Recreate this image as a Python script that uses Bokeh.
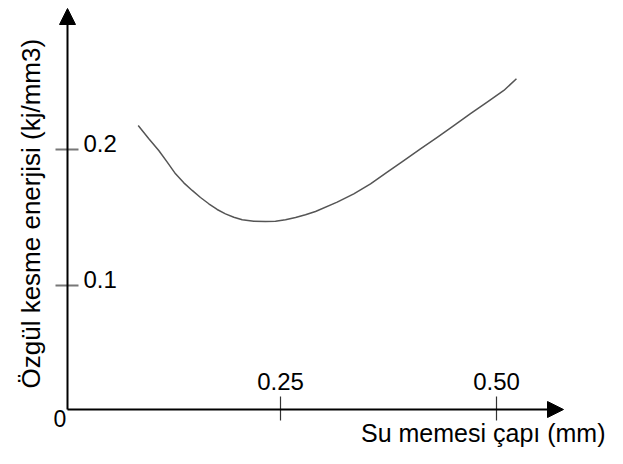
import math
from bokeh.plotting import figure
from bokeh.models import Range1d, Arrow, NormalHead
from bokeh.core.properties import value
from bokeh.embed import file_html
from bokeh.resources import INLINE

# ---- data ----
nozzle_diameter = [0.0853, 0.0976, 0.1091, 0.1189, 0.1285, 0.1381, 0.1478, 0.1574,
                   0.1670, 0.1767, 0.1863, 0.1960, 0.2057, 0.2191, 0.2326, 0.2442,
                   0.2558, 0.2674, 0.2789, 0.2905, 0.3156, 0.3348, 0.3542, 0.3735,
                   0.3927, 0.4120, 0.4314, 0.4506, 0.4699, 0.4892, 0.5085, 0.5231]
specific_energy = [0.2176, 0.2079, 0.1993, 0.1907, 0.1821, 0.1755, 0.1699, 0.1647,
                   0.1601, 0.1559, 0.1527, 0.1502, 0.1483, 0.1473, 0.1471, 0.1473,
                   0.1483, 0.1500, 0.1520, 0.1544, 0.1613, 0.1674, 0.1748, 0.1833,
                   0.1919, 0.2005, 0.2090, 0.2176, 0.2263, 0.2348, 0.2434, 0.2520]
x_ticks = [0.25, 0.50]
x_tick_labels = ["0.25", "0.50"]
y_ticks = [0.1, 0.2]
y_tick_labels = ["0.1", "0.2"]
x_title = "Su memesi çapı (mm)"
y_title = "Özgül kesme enerjisi (kj/mm3)"
origin_label = "0"

FONT = value("Liberation Sans")

W, H = 607, 448
# pixel scale: 864 px per x unit, 1360 px per y unit; data origin at canvas (64, 421)
x0_px, y0_px = 64, 421
XS, YS = 864.0, 1360.0

p = figure(width=W, height=H, output_backend="svg", toolbar_location=None,
           x_axis_location=None, y_axis_location=None, min_border=0,
           x_range=Range1d(-x0_px / XS, (W - x0_px) / XS),
           y_range=Range1d(-(H - y0_px) / YS, y0_px / YS))
p.grid.visible = False
p.outline_line_color = None
p.background_fill_color = "white"
p.border_fill_color = "white"

ax_x = 3 / XS       # y-axis position
ax_y = 12 / YS      # x-axis position

# axes with arrow heads
p.add_layout(Arrow(end=NormalHead(size=16, fill_color="black", line_color="black"),
                   x_start=ax_x, y_start=ax_y, x_end=ax_x, y_end=413 / YS,
                   line_color="black", line_width=2))
p.add_layout(Arrow(end=NormalHead(size=16, fill_color="black", line_color="black"),
                   x_start=ax_x, y_start=ax_y, x_end=499 / XS, y_end=ax_y,
                   line_color="black", line_width=2))

# x ticks
p.segment(x0=x_ticks, x1=x_ticks, y0=[1 / YS] * len(x_ticks), y1=[25 / YS] * len(x_ticks),
          line_color="#333333", line_width=1.2)
# y ticks
p.segment(x0=[-9 / XS] * len(y_ticks), x1=[14 / XS] * len(y_ticks), y0=y_ticks, y1=y_ticks,
          line_color="#777777", line_width=2)

# curve
p.line(nozzle_diameter, specific_energy, line_color="#555555", line_width=1.5,
       line_join="round")

# tick labels
p.text(x=x_ticks, y=[40 / YS] * len(x_ticks), text=x_tick_labels, text_font=FONT,
       text_font_size="24px", text_align="center", text_baseline="alphabetic",
       text_color="black")
p.text(x=[19 / XS] * len(y_ticks), y=[v + 6.5 / YS for v in y_ticks], text=y_tick_labels,
       text_font=FONT, text_font_size="24px", text_align="left",
       text_baseline="alphabetic", text_color="black")
p.text(x=[-11 / XS], y=[3 / YS], text=[origin_label], text_font=FONT,
       text_font_size="23px", text_align="left", text_baseline="alphabetic",
       text_color="black")

# axis titles
p.text(x=[541 / XS], y=[-11 / YS], text=[x_title], text_font=FONT,
       text_font_size="25px", text_align="right", text_baseline="alphabetic",
       text_color="black")
p.text(x=[-34 / XS], y=[33 / YS], text=[y_title], text_font=FONT,
       text_font_size="26px", text_align="left", text_baseline="alphabetic",
       angle=math.pi / 2, text_color="black")

open("out.html", "w").write(file_html(p, INLINE))
